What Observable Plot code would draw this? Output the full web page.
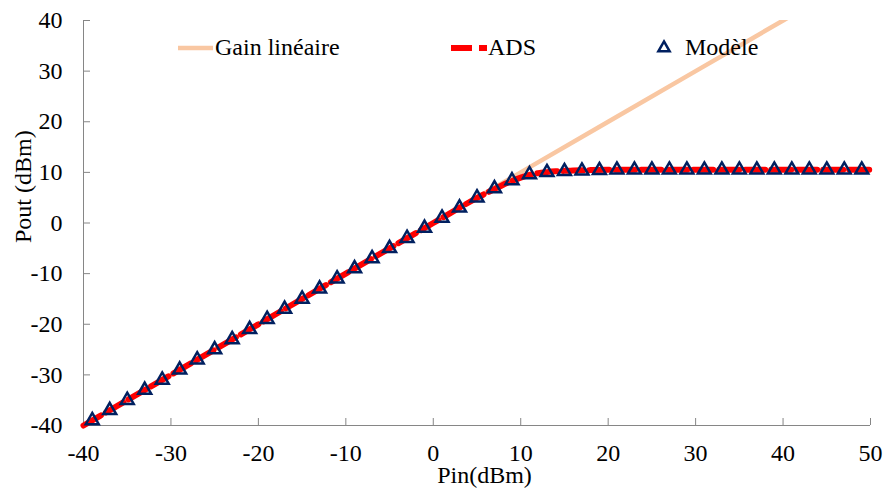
<!DOCTYPE html>
<html>
<head>
<meta charset="utf-8">
<script src="https://cdn.jsdelivr.net/npm/d3@7"></script>
<script src="https://cdn.jsdelivr.net/npm/@observablehq/plot@0.6"></script>
<style>
  html, body { margin: 0; padding: 0; background: #fff; }
  #wrap { position: relative; width: 884px; height: 490px; }
  #legend { position: absolute; left: 0; top: 0; pointer-events: none; }
</style>
</head>
<body>
<div id="wrap"></div>
<script>
// Tick labels
const xTicks = [-40, -30, -20, -10, 0, 10, 20, 30, 40, 50];
const yTicks = [-40, -30, -20, -10, 0, 10, 20, 30, 40];

// Gain linéaire
const gainX = [-40, -30, -20, -10, 0, 10, 20, 30, 40, 50];
const gainY = [-40, -30, -20, -10, 0, 10, 20, 30, 40, 50];

// ADS curve
const adsX = [-40, -35, -30, -25, -20, -15, -10, -5, 0, 2, 4, 5, 6, 7, 8, 9, 10, 11, 12, 13, 14, 15, 16, 17, 18, 20, 25, 30, 35, 40, 45, 50];
const adsY = [-40, -35, -30, -25, -20, -15, -10, -5, 0, 2, 4, 4.95, 5.85, 6.7, 7.55, 8.3, 8.95, 9.5, 9.85, 10.05, 10.2, 10.3, 10.35, 10.4, 10.45, 10.5, 10.5, 10.5, 10.5, 10.5, 10.5, 10.5];

// Modèle points
const modX = [-39, -37, -35, -33, -31, -29, -27, -25, -23, -21, -19, -17, -15, -13, -11, -9, -7, -5, -3, -1, 1, 3, 5, 7, 9, 11, 13, 15, 17, 19, 21, 23, 25, 27, 29, 31, 33, 35, 37, 39, 41, 43, 45, 47, 49];
const modY = [-39, -37, -35, -33, -31, -29, -27, -25, -23, -21, -19, -17, -15, -13, -11, -9, -7, -5, -3, -1, 1, 3, 5, 6.8, 8.4, 9.6, 10.0, 10.2, 10.3, 10.4, 10.5, 10.5, 10.5, 10.5, 10.5, 10.5, 10.5, 10.5, 10.5, 10.5, 10.5, 10.5, 10.5, 10.5, 10.5];

const legendItems = ["Gain linéaire", "ADS", "Modèle"];
const xLabel = "Pin(dBm)";
const yLabel = "Pout (dBm)";

const gain = gainX.map((x, i) => ({x, y: gainY[i]}));
const ads = adsX.map((x, i) => ({x, y: adsY[i]}));
const mod = modX.map((x, i) => ({x, y: modY[i]}));

const W = 884, H = 490, ML = 83, MR = 14, MT = 20, MB = 65;
const frameW = W - ML - MR, frameH = H - MT - MB;
const axisGrey = "#868686";
const gainColor = "#F9C7A2";
const adsColor = "#FF0000";
const modColor = "#002060";

const chart = Plot.plot({
  width: W, height: H,
  marginLeft: ML, marginRight: MR, marginTop: MT, marginBottom: MB,
  style: {fontFamily: "'Liberation Serif', 'Times New Roman', serif", fontSize: "24px", color: "#000", background: "#fff"},
  x: {domain: [-40, 50]},
  y: {domain: [-40, 40]},
  marks: [
    Plot.axisX({ticks: xTicks, tickSize: 0, tickPadding: 18, tickFormat: d => d, label: null, fontSize: 24}),
    Plot.axisY({ticks: yTicks, tickSize: 0, tickPadding: 21, tickFormat: d => d, label: null, fontSize: 24}),
    Plot.tickX(xTicks, {x: d => d, insetTop: frameH - 7, stroke: axisGrey}),
    Plot.tickY(yTicks, {y: d => d, insetRight: frameW - 7, stroke: axisGrey}),
    Plot.ruleX([-40], {stroke: axisGrey}),
    Plot.ruleY([-40], {stroke: axisGrey}),
    Plot.line(gain, {x: "x", y: "y", stroke: gainColor, strokeWidth: 4.5, clip: true}),
    Plot.line(ads, {x: "x", y: "y", stroke: adsColor, strokeWidth: 6, strokeDasharray: "20,6", curve: "monotone-x"}),
    Plot.dot(mod, {x: "x", y: "y", symbol: "triangle", r: 4.8, stroke: modColor, strokeWidth: 2.5, fill: "none"}),
    Plot.text([xLabel], {frameAnchor: "bottom", dx: 7.5, dy: 57, fontSize: 24}),
    Plot.text([yLabel], {frameAnchor: "left", rotate: -90, dx: -60, dy: 20, fontSize: 24})
  ]
});

const wrap = document.getElementById("wrap");
wrap.appendChild(chart);

// Legend overlay (inside the plot area, as in the reference)
const lg = d3.select(wrap).append("svg")
  .attr("id", "legend").attr("width", W).attr("height", H)
  .style("font-family", "'Liberation Serif', 'Times New Roman', serif")
  .style("font-size", "24px");
const ly = 48, lb = 55;
lg.append("line").attr("x1", 178).attr("x2", 213).attr("y1", ly).attr("y2", ly)
  .attr("stroke", gainColor).attr("stroke-width", 4.5);
lg.append("text").attr("x", 215).attr("y", lb).text(legendItems[0]);
lg.append("line").attr("x1", 451).attr("x2", 487).attr("y1", ly).attr("y2", ly)
  .attr("stroke", adsColor).attr("stroke-width", 6).attr("stroke-dasharray", "21,7");
lg.append("text").attr("x", 488).attr("y", lb).text(legendItems[1]);
lg.append("path").attr("transform", `translate(664,${ly})`)
  .attr("d", d3.symbol(d3.symbolTriangle, 55)())
  .attr("fill", "none").attr("stroke", modColor).attr("stroke-width", 2.5);
lg.append("text").attr("x", 685).attr("y", lb).text(legendItems[2]);
</script>
</body>
</html>
